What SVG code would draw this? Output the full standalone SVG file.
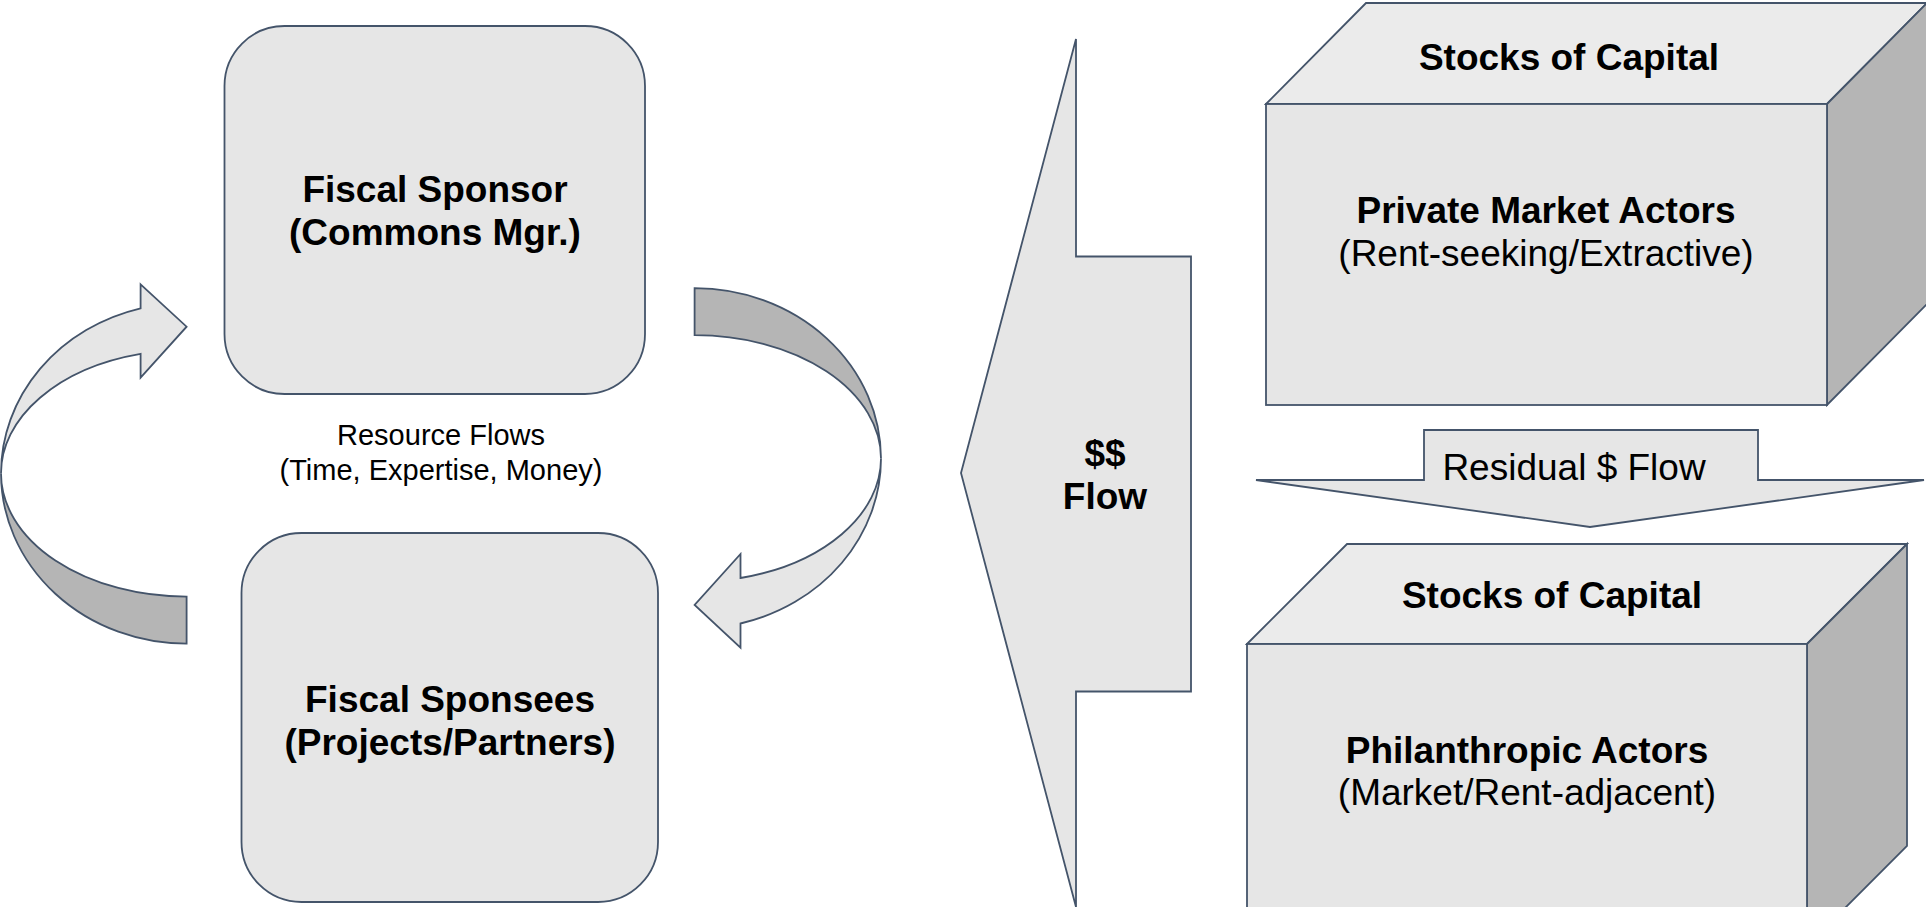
<svg xmlns="http://www.w3.org/2000/svg" width="1926" height="907" viewBox="0 0 1926 907">
<style>
.ln{stroke:#44546a;stroke-width:1.8;stroke-linejoin:miter}
.lt{fill:#e6e6e6}
.top{fill:#ebebeb}
.dk{fill:#b5b5b5}
.b{font-family:"Liberation Sans",Arial,sans-serif;font-weight:bold;font-size:37px;fill:#000;text-anchor:middle}
.r{font-family:"Liberation Sans",Arial,sans-serif;font-size:37px;fill:#000;text-anchor:middle}
.s{font-family:"Liberation Sans",Arial,sans-serif;font-size:29px;fill:#000;text-anchor:middle}
</style>
<rect width="1926" height="907" fill="#ffffff"/>
<g id="connectors">
  <g id="loop-left">
    <path class="ln dk" d="M 1,473.3 A 185.6 170.3 0 0 0 186.6,643.6 L 186.6,596.6 A 185.6 123.3 0 0 1 1,473.3 Z"/>
    <path class="ln lt" d="M 140.6,284.3 L 186.6,326.7 L 140.6,377.7 L 140.6,353.9 A 185.6 123.3 0 0 0 1,473.3 A 185.6 170.3 0 0 1 140.6,308.3 Z"/>
  </g>
  <g id="loop-right">
    <path class="ln dk" d="M 694.6,288.2 A 186.4 170.3 0 0 1 881,458.5 A 186.4 123.3 0 0 0 694.6,335.2 Z"/>
    <path class="ln lt" d="M 881,458.5 A 186.4 170.3 0 0 1 740.5,623.5 L 740.5,647.7 L 694.6,605 L 740.5,554 L 740.5,578 A 186.4 123.3 0 0 0 881,458.5 Z"/>
  </g>
  <g id="resource-label">
    <text class="s" x="441" y="445">Resource Flows</text>
    <text class="s" x="441" y="480">(Time, Expertise, Money)</text>
  </g>
  <g id="dollar-flow">
    <path class="ln lt" d="M 961,473 L 1076,39 L 1076,256.5 L 1191,256.5 L 1191,691.5 L 1076,691.5 L 1076,907 Z"/>
    <text class="b" x="1105" y="466">$$</text>
    <text class="b" x="1105" y="509">Flow</text>
  </g>
  <g id="residual-flow">
    <path class="ln lt" d="M 1256,480 L 1424,480 L 1424,430 L 1758,430 L 1758,480 L 1924,480 L 1590,527 Z"/>
    <text class="r" x="1574" y="480">Residual $ Flow</text>
  </g>
</g>
<g id="fiscal-sponsor">
  <rect class="ln lt" x="224.5" y="26" width="420.5" height="368" rx="60" ry="60"/>
  <text class="b" x="435" y="202">Fiscal Sponsor</text>
  <text class="b" x="435" y="245">(Commons Mgr.)</text>
</g>
<g id="fiscal-sponsees">
  <rect class="ln lt" x="241.5" y="533" width="416.5" height="369" rx="60" ry="60"/>
  <text class="b" x="450" y="712">Fiscal Sponsees</text>
  <text class="b" x="450" y="754.5">(Projects/Partners)</text>
</g>
<g id="private-market">
  <path class="ln top" d="M 1266,104 L 1366,3 L 1927,3 L 1827,104 Z"/>
  <path class="ln dk" d="M 1827,104 L 1927,3 L 1927,304 L 1827,405 Z"/>
  <rect class="ln lt" x="1266" y="104" width="561" height="301"/>
  <text class="b" x="1569" y="70">Stocks of Capital</text>
  <text class="b" x="1546" y="223">Private Market Actors</text>
  <text class="r" x="1546" y="266">(Rent-seeking/Extractive)</text>
</g>
<g id="philanthropic">
  <path class="ln top" d="M 1247,644 L 1347,544 L 1907,544 L 1807,644 Z"/>
  <path class="ln dk" d="M 1807,644 L 1907,544 L 1907,846 L 1807,946 Z"/>
  <rect class="ln lt" x="1247" y="644" width="560" height="302"/>
  <text class="b" x="1552" y="608">Stocks of Capital</text>
  <text class="b" x="1527" y="763">Philanthropic Actors</text>
  <text class="r" x="1527" y="805">(Market/Rent-adjacent)</text>
</g>
</svg>
